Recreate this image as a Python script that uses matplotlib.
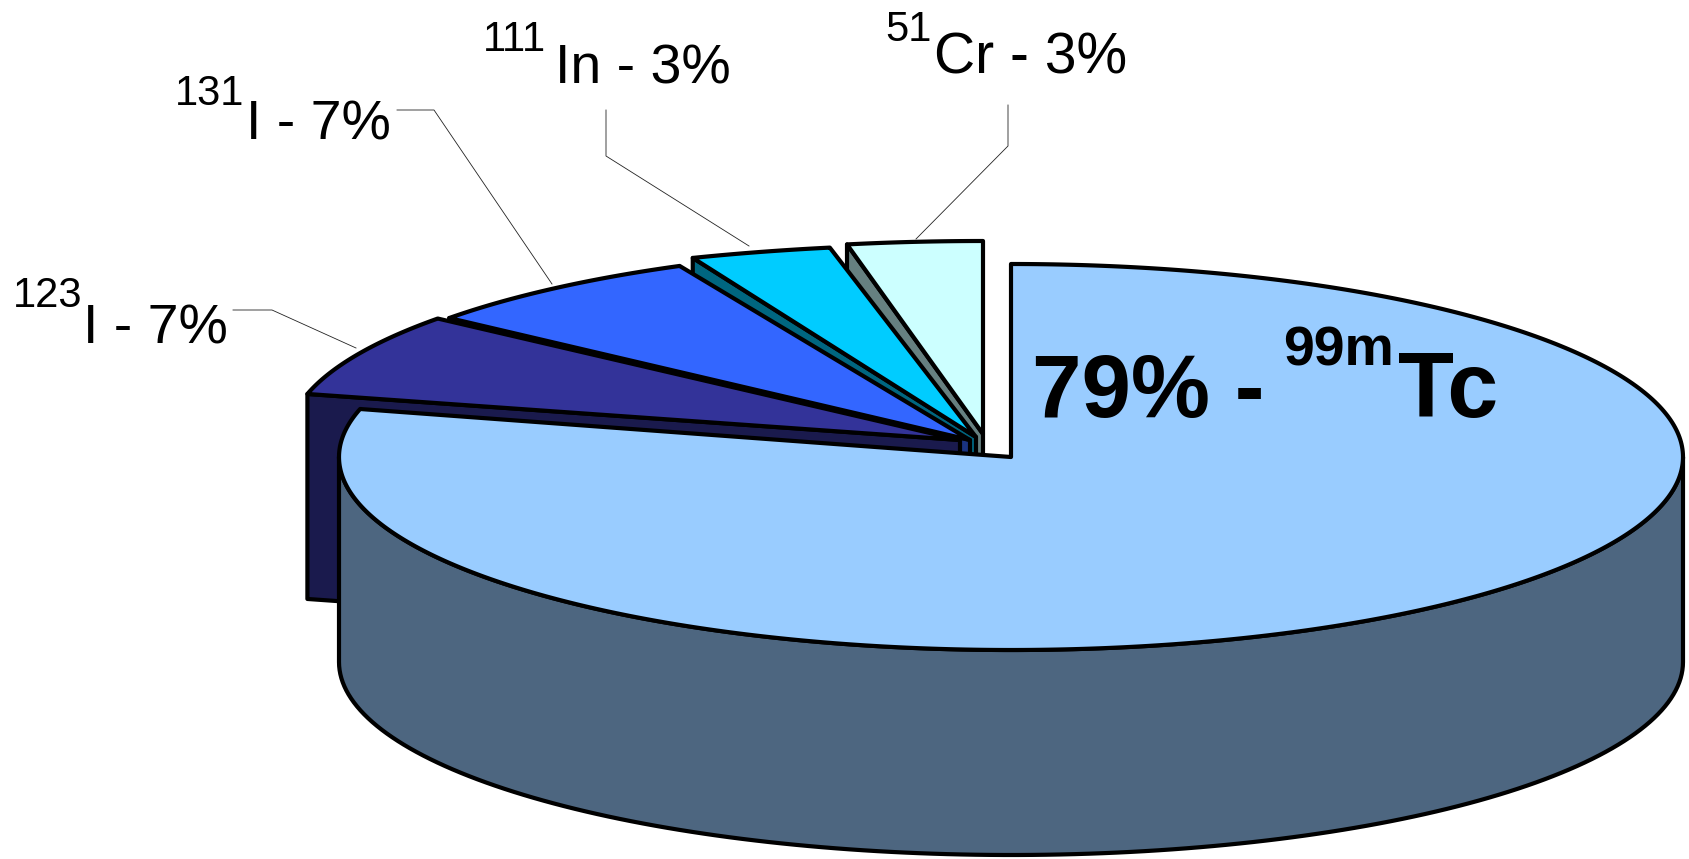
import numpy as np
import matplotlib
matplotlib.use("Agg")
import matplotlib.pyplot as plt
from matplotlib.patches import Polygon

plt.rcParams["font.family"] = ["Liberation Sans", "DejaVu Sans"]

# Shares in percent, counter-clockwise from 12 o'clock for the small ones
isotopes = ["51Cr", "111In", "131I", "123I"]
shares = [3, 3, 7, 7]
main_share = 79

top_colors = ["#CCFFFF", "#00CCFF", "#3366FF", "#333399"]
wall_colors = ["#668080", "#006680", "#1A3380", "#1A1A4D"]
main_top = "#99CCFF"
main_wall = "#4D6680"

# Pie geometry, figure pixels
CX, CY = 1011, 457
A, B = 672, 193
DEPTH = 205
LW = 3.0

# Pulled-out slices: tip position, small angular fan, sideways stretch
tips = [(983, 434), (976, 437), (970, 440), (960, 440)]
fan = [0, 0.3, 4, 4.2]
stretch = [1.08, 1.13, 1, 1]


def arc(x0, y0, t0, t1, n=150, sx=1.0):
    t = np.radians(np.linspace(t0, t1, n))
    return np.column_stack([x0 + sx * A * np.cos(t), y0 - B * np.sin(t)])


fig = plt.figure(figsize=(16.9, 8.59), dpi=100)
ax = fig.add_axes([0, 0, 1, 1])
ax.set_xlim(0, 1690)
ax.set_ylim(859, 0)
ax.axis("off")


def poly(pts, color, z):
    ax.add_patch(Polygon(pts, closed=True, facecolor=color, edgecolor="black",
                         linewidth=LW, joinstyle="round", zorder=z))


# Small slices, from the vertical edge leftwards: end face first, then top
start = 90.0
z = 2
for share, tip, shift, sx, ctop, cwall in zip(shares, tips, fan, stretch, top_colors, wall_colors):
    t0 = start + shift
    t1 = t0 + share / 100 * 360
    edge = arc(tip[0], tip[1], t1, t1, 1, sx)[0]
    poly([tip, edge, (edge[0], edge[1] + DEPTH), (tip[0], tip[1] + DEPTH)], cwall, z)
    poly(np.vstack([[tip], arc(tip[0], tip[1], t0, t1, sx=sx)]), ctop, z + 1)
    start += share / 100 * 360
    z += 2

# Main slice: outer wall, then the top face running clockwise from 12 o'clock
outer = np.vstack([arc(CX, CY, 180, 360), arc(CX, CY + DEPTH, 360, 180)])
poly(outer, main_wall, z)
main_end = 90 - main_share / 100 * 360
poly(np.vstack([[(CX, CY)], arc(CX, CY, 90, main_end, 400)]), main_top, z + 1)

# Leader lines
leaders = [
    [(233, 310), (272, 310), (356, 348)],
    [(397, 110), (434, 110), (552, 284)],
    [(606, 110), (606, 156), (749, 246)],
    [(1008, 105), (1008, 146), (916, 239)],
]
for pts in leaders:
    xs, ys = zip(*pts)
    ax.plot(xs, ys, color="#222222", linewidth=0.6, zorder=1)

# Labels: isotope mass number is a separate raised piece
labels = [
    ("123", 13, 307, "I - 7%", 83, 343, 40),
    ("131", 175, 105, "I - 7%", 246, 140, 40),
    ("111", 483, 51, "In - 3%", 555, 84, 40),
    ("51", 885, 41, "Cr - 3%", 934, 74, 41),
]
for sup, sx, sy, rest, rx, ry, size in labels:
    ax.text(sx, sy, sup, fontsize=30, ha="left", va="baseline", color="black", zorder=20)
    ax.text(rx, ry, rest, fontsize=size, ha="left", va="baseline", color="black", zorder=20)

ax.text(1032, 417, "79% -", fontsize=64, fontweight="bold", ha="left", va="baseline", zorder=20)
ax.text(1283, 366, "99m", fontsize=40, fontweight="bold", ha="left", va="baseline", zorder=20)
ax.text(1398, 417, "Tc", fontsize=66, fontweight="bold", ha="left", va="baseline", zorder=20)

fig.savefig("out.png", dpi=100)
